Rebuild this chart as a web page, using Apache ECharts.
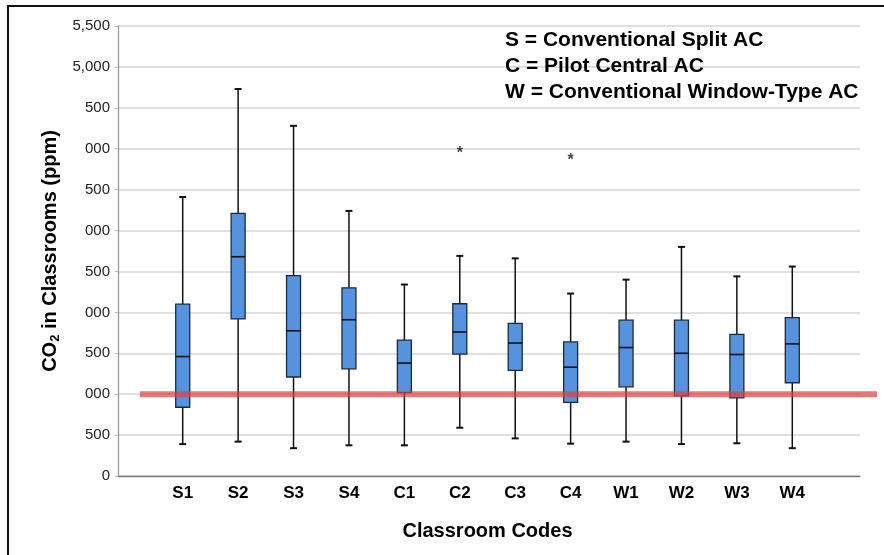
<!DOCTYPE html>
<html>
<head>
<meta charset="utf-8">
<title>CO2 in Classrooms</title>
<script src="https://cdn.jsdelivr.net/npm/echarts@6/dist/echarts.min.js"></script>
<style>
	html,body{margin:0;padding:0;background:#fff;}
	#wrap{position:relative;width:884px;height:555px;overflow:hidden;}
	#frame{position:absolute;left:7px;top:5px;width:900px;height:600px;border-top:2px solid #111;border-left:2px solid #111;}
	#main{position:absolute;left:0;top:0;width:884px;height:555px;}
</style>
</head>
<body>
<div id="wrap">
	<div id="frame"></div>
	<div id="main"></div>
</div>
<script>
'use strict';

// classroom codes on the x axis
var categories = ['S1','S2','S3','S4','C1','C2','C3','C4','W1','W2','W3','W4'];

// box values (ppm)
var whiskerMin = [390, 420, 340, 375, 375, 590, 460, 395, 420, 390, 400, 340];
var quartile1  = [840, 1920, 1210, 1310, 1020, 1490, 1290, 900, 1090, 980, 955, 1140];
var medians    = [1460, 2680, 1775, 1910, 1380, 1760, 1625, 1330, 1570, 1500, 1485, 1615];
var quartile3  = [2100, 3210, 2450, 2300, 1660, 2105, 1865, 1640, 1905, 1905, 1730, 1935];
var whiskerMax = [3410, 4730, 4280, 3240, 2340, 2690, 2660, 2230, 2400, 2800, 2440, 2560];

// outliers (category, value)
var outlierCats = ['C2','C4'];
var outlierVals = [3980, 3890];

// 1000 ppm reference line
var limitValue = 1000;

// y tick labels as they show in the figure (left part is cut off there)
var yTickValues = [0, 500, 1000, 1500, 2000, 2500, 3000, 3500, 4000, 4500, 5000, 5500];
var yTickLabels = ['0','500','000','500','000','500','000','500','000','500','5,000','5,500'];

var legendLines = ['S = Conventional Split AC','C = Pilot Central AC','W = Conventional Window-Type AC'];

var fontFam = 'Arial, "Liberation Sans", Helvetica, sans-serif';

var boxData = categories.map(function(c,i){
	return [i, whiskerMin[i], quartile1[i], medians[i], quartile3[i], whiskerMax[i]];
});
var outlierData = outlierCats.map(function(c,i){
	return [categories.indexOf(c), outlierVals[i]];
});

function renderBox(params, api){
	var x = api.value(0);
	var pMin = api.coord([x, api.value(1)]);
	var pQ1 = api.coord([x, api.value(2)]);
	var pMed = api.coord([x, api.value(3)]);
	var pQ3 = api.coord([x, api.value(4)]);
	var pMax = api.coord([x, api.value(5)]);
	var cx = pMin[0];
	var hb = 7, hc = 3.5;
	var wStyle = {stroke:'#111', lineWidth:1.5};
	return {
		type:'group',
		children:[
			{type:'line', shape:{x1:cx,y1:pMax[1],x2:cx,y2:pQ3[1]}, style:wStyle},
			{type:'line', shape:{x1:cx,y1:pQ1[1],x2:cx,y2:pMin[1]}, style:wStyle},
			{type:'line', shape:{x1:cx-hc,y1:pMax[1],x2:cx+hc,y2:pMax[1]}, style:{stroke:'#111',lineWidth:2}},
			{type:'line', shape:{x1:cx-hc,y1:pMin[1],x2:cx+hc,y2:pMin[1]}, style:{stroke:'#111',lineWidth:2}},
			{type:'rect', shape:{x:cx-hb,y:pQ3[1],width:hb*2,height:pQ1[1]-pQ3[1]},
				style:{fill:'#5593de', stroke:'#1c2b3c', lineWidth:1.3}},
			{type:'line', shape:{x1:cx-hb,y1:pMed[1],x2:cx+hb,y2:pMed[1]}, style:{stroke:'#111',lineWidth:1.6}}
		]
	};
}

var option = {
	animation:false,
	title:{
		text: legendLines.join('\n'),
		left:505,
		top:27,
		padding:0,
		textStyle:{fontSize:21, fontWeight:'bold', color:'#000', fontFamily:fontFam, lineHeight:26}
	},
	grid:[
		{left:118, right:24, top:26, bottom:79},   // axes + grid lines
		{left:155, right:64, top:26, bottom:79},   // boxes
		{left:140, right:7, top:26, bottom:79}     // red 1000 ppm line
	],
	xAxis:[
		{
			type:'value', gridIndex:0, min:0, max:1,
			axisLine:{show:true, onZero:false, lineStyle:{color:'#7a7a7a', width:1.3}},
			axisTick:{show:false}, axisLabel:{show:false}, splitLine:{show:false}
		},
		{
			type:'category', gridIndex:1, data:categories,
			axisLine:{show:false}, axisTick:{show:false},
			axisLabel:{fontSize:17, fontWeight:'bold', color:'#000', fontFamily:fontFam, margin:9},
			name:'Classroom Codes', nameLocation:'middle', nameGap:45,
			nameTextStyle:{fontSize:20, fontWeight:'bold', color:'#000', fontFamily:fontFam}
		},
		{type:'value', gridIndex:2, min:0, max:1, show:false}
	],
	yAxis:[
		{
			type:'value', gridIndex:0, min:0, max:5500, interval:500,
			axisLine:{show:true, lineStyle:{color:'#9a9a9a', width:1.3}},
			axisTick:{show:true, length:3, inside:false, lineStyle:{color:'#bbb'}},
			axisLabel:{
				fontSize:15, color:'#222', fontFamily:fontFam, margin:8,
				formatter:function(v){
					var k = yTickValues.indexOf(v);
					return k >= 0 ? yTickLabels[k] : '';
				}
			},
			splitLine:{show:true, lineStyle:{color:'#d6d6d6', width:1.5}},
			name:'CO{sub|2} in Classrooms (ppm)',
			nameLocation:'middle', nameGap:50, nameRotate:90,
			nameTextStyle:{
				fontSize:20, fontWeight:'bold', color:'#000', fontFamily:fontFam,
				rich:{sub:{fontSize:13, fontWeight:'bold', color:'#000', fontFamily:fontFam, verticalAlign:'bottom', padding:[9,0,0,0]}}
			}
		},
		{type:'value', gridIndex:1, min:0, max:5500, show:false},
		{type:'value', gridIndex:2, min:0, max:5500, show:false}
	],
	series:[
		{
			type:'custom',
			xAxisIndex:1, yAxisIndex:1,
			renderItem:renderBox,
			encode:{x:0, y:[1,2,3,4,5]},
			data:boxData,
			z:2
		},
		{
			type:'scatter',
			xAxisIndex:1, yAxisIndex:1,
			symbolSize:1,
			itemStyle:{color:'rgba(0,0,0,0)'},
			label:{show:true, position:'inside', formatter:'*', fontSize:16, fontWeight:'bold', color:'#111', fontFamily:fontFam, offset:[0,3]},
			data:outlierData,
			z:3
		},
		{
			type:'line',
			xAxisIndex:2, yAxisIndex:2,
			symbol:'none',
			lineStyle:{color:'rgba(216,64,64,0.7)', width:6},
			data:[[0,limitValue],[1,limitValue]],
			z:5
		}
	]
};

var myChart = echarts.init(document.getElementById('main'));
myChart.setOption(option);
</script>
</body>
</html>
